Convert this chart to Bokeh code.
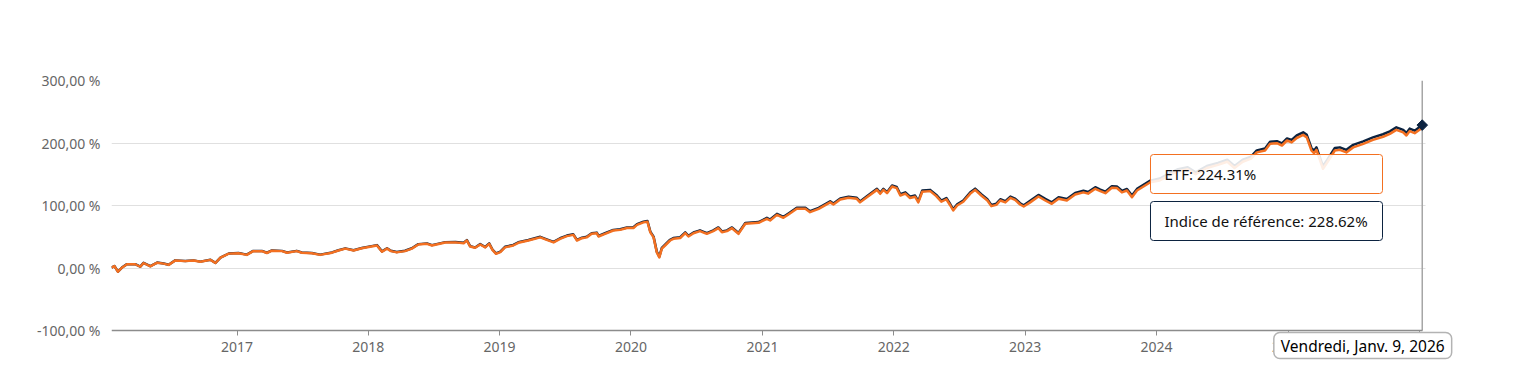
import pandas as pd
from bokeh.plotting import figure
from bokeh.models import FixedTicker, BoxAnnotation, Label, Range1d, DatetimeTickFormatter, Grid
from bokeh.embed import file_html
from bokeh.resources import INLINE

dates = [
    "2016-01-18","2016-01-26","2016-02-05","2016-02-16","2016-03-01","2016-03-24","2016-04-07","2016-04-16","2016-05-05","2016-05-24",
    "2016-06-11","2016-06-25","2016-07-13","2016-08-10","2016-09-02","2016-09-21","2016-10-19","2016-11-02","2016-11-16","2016-12-09",
    "2017-01-05","2017-01-28","2017-02-15","2017-03-11","2017-03-25","2017-04-08","2017-05-06","2017-05-20","2017-06-16","2017-06-30",
    "2017-07-28","2017-08-20","2017-09-22","2017-10-10","2017-10-29","2017-11-21","2017-12-14",
    "2018-01-02","2018-01-25","2018-02-08","2018-02-22","2018-03-05","2018-03-21","2018-04-13","2018-05-02","2018-05-20","2018-06-13",
    "2018-06-27","2018-08-03","2018-08-31","2018-09-23","2018-10-02","2018-10-11","2018-10-25","2018-11-08","2018-11-22","2018-12-03",
    "2018-12-12","2018-12-22",
    "2019-01-03","2019-01-16","2019-02-08","2019-02-22","2019-03-22","2019-04-24","2019-05-12","2019-05-31","2019-06-18","2019-07-07",
    "2019-07-25","2019-08-04","2019-08-18","2019-08-31","2019-09-14","2019-09-28","2019-10-03","2019-10-21","2019-11-13","2019-12-02",
    "2019-12-21",
    "2020-01-08","2020-01-18","2020-02-05","2020-02-16","2020-02-24","2020-03-04","2020-03-13","2020-03-20","2020-03-27","2020-04-05",
    "2020-04-19","2020-04-28","2020-05-17","2020-05-31","2020-06-09","2020-06-23","2020-07-11","2020-07-30","2020-08-17","2020-08-31",
    "2020-09-10","2020-09-24","2020-10-08","2020-10-26","2020-11-14","2020-12-21",
    "2021-01-13","2021-01-22","2021-02-10","2021-02-28","2021-03-14","2021-04-06","2021-04-30","2021-05-13","2021-06-06","2021-07-08",
    "2021-07-17","2021-08-05","2021-08-28","2021-09-20","2021-09-29","2021-10-18","2021-11-15","2021-11-24","2021-12-03","2021-12-13",
    "2021-12-27",
    "2022-01-09","2022-01-19","2022-02-02","2022-02-15","2022-03-01","2022-03-10","2022-03-21","2022-04-12","2022-04-29","2022-05-13",
    "2022-05-27","2022-06-07","2022-06-15","2022-06-26","2022-07-13","2022-08-01","2022-08-15","2022-09-01","2022-09-18","2022-09-29",
    "2022-10-13","2022-10-24","2022-11-07","2022-11-21","2022-12-04","2022-12-18","2022-12-28",
    "2023-01-15","2023-02-07","2023-02-26","2023-03-16","2023-04-04","2023-04-27","2023-05-20","2023-06-12","2023-06-25","2023-07-15",
    "2023-07-29","2023-08-12","2023-08-30","2023-09-13","2023-09-27","2023-10-11","2023-10-25","2023-11-08","2023-11-26","2023-12-15",
    "2024-01-10","2024-02-05","2024-03-01","2024-03-28","2024-04-19","2024-05-20","2024-06-20","2024-07-16","2024-08-05","2024-08-28",
    "2024-09-20","2024-10-06","2024-10-29","2024-11-12","2024-12-01","2024-12-15","2024-12-29",
    "2025-01-11","2025-01-25","2025-02-12","2025-02-22","2025-03-07","2025-03-14","2025-03-21","2025-04-08","2025-04-21","2025-05-11",
    "2025-05-25","2025-06-12","2025-07-01","2025-07-29","2025-08-25","2025-09-22","2025-10-11","2025-10-29","2025-11-17","2025-11-26",
    "2025-12-05","2025-12-19","2026-01-09",
]

etf = [
    0.5, 3, -6, 0.5, 6, 6, 2, 8, 2.7, 8.5, 7, 5, 12, 11, 12, 10, 13, 8, 16.5, 23,
    23.5, 21, 27, 27, 24, 27.7, 27, 24.5, 27, 24.5, 23.5, 21, 24.5, 28, 31, 28, 31.5,
    33.6, 36, 26, 31, 27, 25, 27, 31, 37.6, 38.7, 36, 40.8, 41, 39.7, 44, 34.4, 32.3, 37.6, 33, 38.7, 29, 22.7,
    25.3, 33, 36, 40.3, 44, 49, 45, 41, 46.7, 51, 53, 44, 47.7, 49, 54.7, 55.7, 50.4, 54.7, 60, 61, 64,
    64, 69, 73, 74, 57, 49, 25, 17, 31, 36, 44, 46.7, 48, 55.7, 50.4, 55.7, 59, 54.7, 59, 63.7, 57.3, 59, 63.7, 54.7, 70.7, 72.3,
    78.7, 76, 85, 80.3, 85.6, 94.7, 94.7, 89.3, 94.7, 105, 101.6, 109.6, 112.3, 110.7, 105, 113.3, 125, 118.7, 125, 119.7, 130.4,
    127.7, 116, 119, 112, 114, 105, 122, 123, 115, 106, 110, 100, 92, 100, 106, 118.7, 125, 116, 108, 99, 101, 108, 105, 112.3, 109, 101.6, 98.4,
    105, 114.4, 108, 102.7, 110.7, 108, 117.6, 121, 119, 126.7, 123, 119.7, 128.3, 128, 121, 124, 113.3, 124, 130.4, 137.3,
    140, 148, 155, 158, 150, 160, 165, 170, 160, 170, 175, 185, 188, 198.7, 199.7, 196, 204,
    201, 208, 213, 209, 188, 183.7, 189, 158.7, 170, 188, 189, 185, 193, 198.7, 205, 210, 214.7, 221, 217, 212, 219, 215.7, 224.31,
]

indice = [
    0.7, 3.2, -5.8, 0.7, 6.2, 6.2, 2.2, 8.2, 2.9, 8.7, 7.2, 5.2, 12.2, 11.2, 12.2, 10.2, 13.2, 8.2, 16.7, 23.2,
    23.9, 21.4, 27.4, 27.4, 24.4, 28.1, 27.4, 24.9, 27.4, 24.9, 23.9, 21.4, 24.9, 28.4, 31.4, 28.4, 31.9,
    34.2, 36.6, 26.6, 31.6, 27.6, 25.6, 27.6, 31.6, 38.2, 39.3, 36.6, 41.4, 41.6, 40.3, 44.6, 35.0, 32.9, 38.2, 33.6, 39.3, 29.6, 23.3,
    26.2, 33.9, 36.9, 41.2, 44.9, 49.9, 45.9, 41.9, 47.6, 51.9, 53.9, 44.9, 48.6, 49.9, 55.6, 56.6, 51.3, 55.6, 60.9, 61.9, 64.9,
    65.2, 70.2, 74.2, 75.2, 58.2, 50.2, 26.2, 18.2, 32.2, 37.2, 45.2, 47.9, 49.2, 56.9, 51.6, 56.9, 60.2, 55.9, 60.2, 64.9, 58.5, 60.2, 64.9, 55.9, 71.9, 73.5,
    80.3, 77.6, 86.6, 81.9, 87.2, 96.3, 96.3, 90.9, 96.3, 106.6, 103.2, 111.2, 113.9, 112.3, 106.6, 114.9, 126.6, 120.3, 126.6, 121.3, 132.0,
    129.7, 118.0, 121.0, 114.0, 116.0, 107.0, 124.0, 125.0, 117.0, 108.0, 112.0, 102.0, 94.0, 102.0, 108.0, 120.7, 127.0, 118.0, 110.0, 101.0,
    103.0, 110.0, 107.0, 114.3, 111.0, 103.6, 100.4,
    107.5, 116.9, 110.5, 105.2, 113.2, 110.5, 120.1, 123.5, 121.5, 129.2, 125.5, 122.2, 130.8, 130.5, 123.5, 126.5, 115.8, 126.5, 132.9, 139.8,
    143.2, 151.2, 158.2, 161.2, 153.2, 163.2, 168.2, 173.2, 163.2, 173.2, 178.2, 188.2, 191.2, 201.9, 202.9, 199.2, 207.2,
    205.0, 212.0, 217.0, 213.0, 192.0, 187.7, 193.0, 162.7, 174.0, 192.0, 193.0, 189.0, 197.0, 202.7, 209.0, 214.0, 218.7, 225.0, 221.0,
    216.0, 223.0, 219.7, 228.62,
]

y_ticks = [-100, 0, 100, 200, 300]
y_tick_labels = ["-100,00 %", "0,00 %", "100,00 %", "200,00 %", "300,00 %"]
x_tick_years = ["2017-01-01", "2018-01-01", "2019-01-01", "2020-01-01", "2021-01-01", "2022-01-01",
                "2023-01-01", "2024-01-01", "2025-01-01", "2026-01-01"]

tooltip_date = "Vendredi, Janv. 9, 2026"
etf_label = "ETF: 224.31%"
indice_label = "Indice de référence: 228.62%"

ORANGE = "#f37021"
NAVY = "#0c2340"
FONT = "Noto Sans"

assert len(dates) == len(etf) == len(indice)

def ms(s):
    return pd.Timestamp(s).value / 1e6

x = pd.to_datetime(dates)
x_start = ms(dates[0])
x_end_axis = ms("2026-01-10")
x_end_grid = ms("2026-01-18")

# the frame covers the canvas down to the bottom and to the right edge so the
# date tooltip under the axis is not clipped; the axis sits at y = -100
p = figure(width=1518, height=384, x_axis_type="datetime", output_backend="svg", toolbar_location=None,
           x_range=Range1d(x_start, ms("2026-10-03 14:00")), y_range=Range1d(-186.4, 300),
           min_border_left=111, min_border_right=0, min_border_top=80, min_border_bottom=0)
p.outline_line_color = None
p.background_fill_color = "white"
p.border_fill_color = "white"

p.xgrid.grid_line_color = None
use_cross = "cross_bounds" in Grid.properties()
if use_cross:
    p.ygrid.ticker = FixedTicker(ticks=y_ticks[1:])
    p.ygrid.grid_line_color = "#e0e0e0"
    p.ygrid.grid_line_width = 1
    p.ygrid.cross_bounds = (x_start, x_end_grid)
else:
    p.ygrid.grid_line_color = None
    gy = y_ticks[1:]
    p.segment(x0=[x_start] * len(gy), y0=gy, x1=[x_end_grid] * len(gy), y1=gy,
              line_color="#e0e0e0", line_width=1, level="underlay")

p.yaxis.ticker = FixedTicker(ticks=y_ticks)
p.yaxis.major_label_overrides = {t: l for t, l in zip(y_ticks, y_tick_labels)}
p.yaxis.axis_line_color = None
p.yaxis.major_tick_line_color = None
p.yaxis.major_tick_out = 0
p.yaxis.major_tick_in = 0
p.yaxis.minor_tick_line_color = None
p.yaxis.minor_tick_out = 0
p.yaxis.major_label_text_color = "#666666"
p.yaxis.major_label_text_font = FONT
p.yaxis.major_label_text_font_size = "14px"
p.yaxis.major_label_standoff = 11

p.xaxis.fixed_location = y_ticks[0]
p.xaxis.bounds = (x_start, x_end_axis)
p.xaxis.ticker = FixedTicker(ticks=[ms(d) for d in x_tick_years])
p.xaxis.formatter = DatetimeTickFormatter(years="%Y", months="%Y", days="%Y")
p.xaxis.axis_line_color = "#8c8c8c"
p.xaxis.axis_line_width = 1.5
p.xaxis.major_tick_line_color = "#8c8c8c"
p.xaxis.major_tick_out = 5
p.xaxis.major_tick_in = 0
p.xaxis.minor_tick_line_color = None
p.xaxis.major_label_text_color = "#666666"
p.xaxis.major_label_text_font = FONT
p.xaxis.major_label_text_font_size = "14px"
p.xaxis.major_label_standoff = 6

p.line(x, indice, line_color=NAVY, line_width=2.5, line_join="round")
p.line(x, etf, line_color=ORANGE, line_width=2.5, line_join="round")

# crosshair at the hovered date, from the axis to the top of the chart
p.segment(x0=[x[-1]], y0=[y_ticks[0]], x1=[x[-1]], y1=[y_ticks[-1]], line_color="#a6a6a6", line_width=1.5)

p.scatter([x[-1]], [indice[-1]], marker="square", size=7.5, angle=0.785398, fill_color=NAVY, line_color=NAVY)

box_left = ms("2023-12-15 12:00")
box_right = ms("2025-09-20 12:00")
p.add_layout(BoxAnnotation(left=box_left, right=box_right, top=181.6, bottom=119.2,
                           fill_color="white", fill_alpha=0.88, line_color=ORANGE, line_alpha=1.0,
                           line_width=1, border_radius=3))
p.add_layout(BoxAnnotation(left=box_left, right=box_right, top=106.4, bottom=44.0,
                           fill_color="white", fill_alpha=0.88, line_color=NAVY, line_alpha=1.0,
                           line_width=1, border_radius=3))
p.add_layout(Label(x=box_left, y=150.4, x_offset=14, text=etf_label, text_font=FONT,
                   text_font_size="15px", text_color="#111111", text_baseline="middle"))
p.add_layout(Label(x=box_left, y=75.2, x_offset=14, text=indice_label, text_font=FONT,
                   text_font_size="15px", text_color="#111111", text_baseline="middle"))

p.add_layout(Label(x=ms(dates[-1]), y=y_ticks[0], x_offset=-59.5, y_offset=-15, text=tooltip_date,
                   text_font=FONT, text_font_size="15.5px", text_color="#000000",
                   text_align="center", text_baseline="middle",
                   background_fill_color="white", background_fill_alpha=1.0,
                   border_line_color="#b3b3b3", border_line_width=1.5,
                   padding=(7, 2), border_radius=6))

open("out.html", "w").write(file_html(p, INLINE))
